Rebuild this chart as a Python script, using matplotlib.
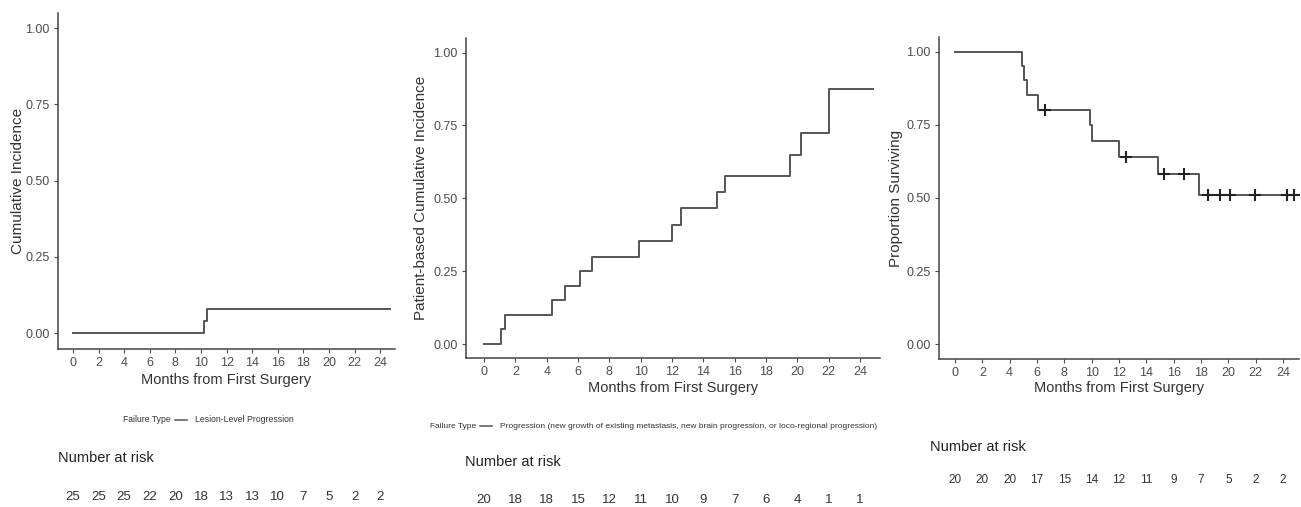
import matplotlib
matplotlib.use("Agg")
import matplotlib.pyplot as plt
import matplotlib.transforms as mtransforms
import numpy as np

plt.rcParams['font.family'] = ['Liberation Sans', 'DejaVu Sans']

# ---- data ----
month_ticks = list(range(0, 25, 2))
prob_ticks = [0.0, 0.25, 0.5, 0.75, 1.0]

# panel 1: lesion-level cumulative incidence
p1_times = [0, 10.23, 10.49, 24.8]
p1_cif = [0, 0.04, 0.08, 0.08]
p1_risk = [25, 25, 25, 22, 20, 18, 13, 13, 10, 7, 5, 2, 2]

# panel 2: patient-based cumulative incidence
p2_times = [0, 1.06, 1.34, 4.31, 5.16, 6.12, 6.9, 9.88, 12.0, 12.6, 14.89, 15.36,
            19.5, 20.2, 22.0, 24.8]
p2_cif = [0, 0.05, 0.10, 0.15, 0.20, 0.25, 0.30, 0.355, 0.41, 0.465, 0.52, 0.575,
          0.65, 0.725, 0.874, 0.874]
p2_risk = [20, 18, 18, 15, 12, 11, 10, 9, 7, 6, 4, 1, 1]

# panel 3: overall survival (Kaplan-Meier)
p3_times = [0, 4.89, 5.06, 5.3, 6.04, 9.88, 10.05, 12.0, 14.87, 17.87, 24.85]
p3_surv = [1.0, 0.952, 0.903, 0.851, 0.80, 0.749, 0.695, 0.641, 0.582, 0.509, 0.509]
p3_censor = [6.55, 12.5, 15.29, 16.75, 18.52, 19.38, 20.1, 21.93, 24.25, 24.8]
p3_risk = [20, 20, 20, 17, 15, 14, 12, 11, 9, 7, 5, 2, 2]

W, H = 1301, 507
fig = plt.figure(figsize=(W / 100, H / 100), dpi=100)
renderer = fig.canvas.get_renderer()

LINE = '#555555'
TICK = '#4d4d4d'


# make axes from pixel box (left, right, top, bottom measured from top-left)
def make_axes(l, r, t, b, xlim, ylim, ylabel, ylab_x, xlab_y):
    ax = fig.add_axes([l / W, 1 - b / H, (r - l) / W, (b - t) / H])
    ax.spines['right'].set_visible(False)
    ax.spines['top'].set_visible(False)
    for s in ['left', 'bottom']:
        ax.spines[s].set_color('#444444')
        ax.spines[s].set_linewidth(1.1)
    ax.set_xlim(*xlim)
    ax.set_ylim(*ylim)
    ax.set_xticks(month_ticks)
    ax.set_yticks(prob_ticks)
    ax.set_yticklabels([f'{v:.2f}' for v in prob_ticks])
    ax.tick_params(colors=TICK, labelsize=9, length=3, width=0.8, pad=3)
    ax.set_xlabel('Months from First Surgery', fontsize=10.5, color='#333333')
    ax.set_ylabel(ylabel, fontsize=11, color='#333333')
    # label positions in pixels -> axes fraction
    ax.yaxis.set_label_coords((ylab_x - l) / (r - l), 0.5)
    ax.yaxis.label.set_va('center')
    ax.xaxis.set_label_coords(0.5, (b - xlab_y) / (b - t))
    ax.xaxis.label.set_va('center')
    return ax


def risk_table(ax, counts, y_title, y_nums, x_title, num_size):
    fig.text(x_title / W, 1 - y_title / H, 'Number at risk', fontsize=10.5,
             color='#222222', va='center', ha='left')
    trans = mtransforms.blended_transform_factory(ax.transData, fig.transFigure)
    for t, n in zip(month_ticks, counts):
        fig.text(t, 1 - y_nums / H, str(n), transform=trans, fontsize=num_size,
                 color='#333333', ha='center', va='center')


def legend_row(x0, y, label, size):
    yy = 1 - y / H
    title = fig.text(x0 / W, yy, 'Failure Type', fontsize=size, color='#333333', va='center')
    x_end = title.get_window_extent(renderer).x1
    x_line = x_end + 4
    fig.add_artist(plt.Line2D([x_line / W, (x_line + 12) / W], [yy, yy],
                              color=LINE, lw=1.1, transform=fig.transFigure))
    fig.text((x_line + 20) / W, yy, label, fontsize=size, color='#333333', va='center')


# panel 1
ax1 = make_axes(58, 395, 13, 349, (-1.17, 25.16), (-0.052, 1.05),
                'Cumulative Incidence', 18, 380)
ax1.step(p1_times, p1_cif, where='post', color=LINE, lw=1.4)
legend_row(123, 420, 'Lesion-Level Progression', 6.2)
risk_table(ax1, p1_risk, 458, 497, 58, 9.5)

# panel 2
ax2 = make_axes(466, 880, 38, 358, (-1.15, 25.27), (-0.048, 1.05),
                'Patient-based Cumulative Incidence', 421, 388)
ax2.step(p2_times, p2_cif, where='post', color=LINE, lw=1.4)
legend_row(430, 426,
           'Progression (new growth of existing metastasis, new brain progression, '
           'or loco-regional progression)', 6.0)
risk_table(ax2, p2_risk, 462, 500, 465, 9.5)

# panel 3
ax3 = make_axes(939, 1299, 37, 359, (-1.17, 25.16), (-0.05, 1.05),
                'Proportion Surviving', 896, 388)
ax3.step(p3_times, p3_surv, where='post', color=LINE, lw=1.4)
idx = np.searchsorted(p3_times, p3_censor, side='right') - 1
ax3.plot(p3_censor, np.array(p3_surv)[idx], '+', color='#222222', ms=8, mew=1.5)
risk_table(ax3, p3_risk, 447, 480, 930, 8.5)

fig.savefig('out.png', dpi=100, facecolor='white')
